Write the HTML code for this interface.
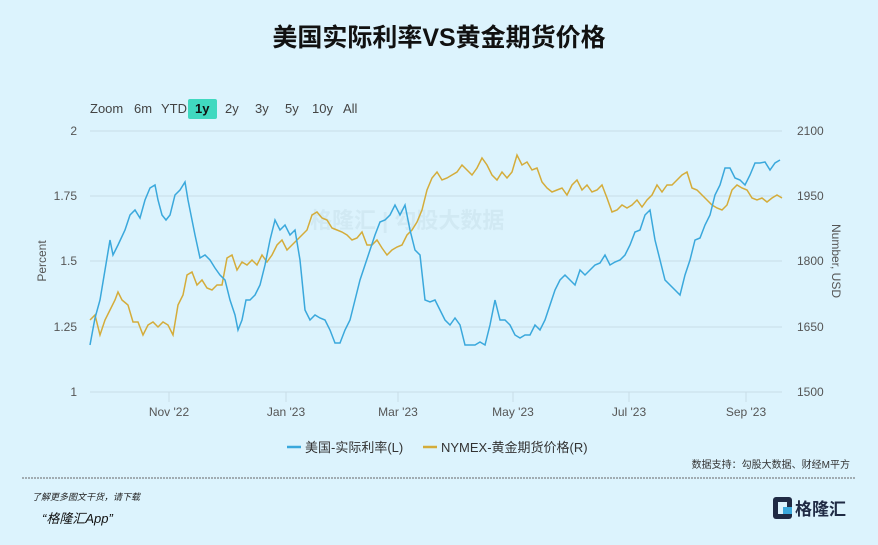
<!DOCTYPE html>
<html><head><meta charset="utf-8"><style>
body{margin:0;width:878px;height:545px;background:#dcf3fd;font-family:"Liberation Sans","Noto Sans CJK SC",sans-serif;overflow:hidden}
</style></head><body>
<svg width="878" height="545" xmlns="http://www.w3.org/2000/svg" style="position:absolute;left:0;top:0">
<text x="439" y="46" text-anchor="middle" font-size="25" font-weight="bold" fill="#111" font-family="Liberation Sans,Noto Sans CJK SC,sans-serif">美国实际利率VS黄金期货价格</text>
<g font-size="13" fill="#444" font-family="Liberation Sans,sans-serif">
<text x="90" y="113">Zoom</text><text x="134" y="113">6m</text><text x="161" y="113">YTD</text>
<rect x="188" y="99" width="29" height="20" rx="2" fill="#40d9c0"/>
<text x="195" y="113" font-weight="bold" fill="#111">1y</text>
<text x="225" y="113">2y</text><text x="255" y="113">3y</text><text x="285" y="113">5y</text><text x="312" y="113">10y</text><text x="343" y="113">All</text>
</g>
<g stroke="#c8dce6" stroke-width="1">
<line x1="90" y1="131" x2="782" y2="131"/><line x1="90" y1="196" x2="782" y2="196"/><line x1="90" y1="261" x2="782" y2="261"/><line x1="90" y1="327" x2="782" y2="327"/><line x1="90" y1="392" x2="782" y2="392"/>
<line x1="169" y1="392" x2="169" y2="402"/><line x1="286" y1="392" x2="286" y2="402"/><line x1="398" y1="392" x2="398" y2="402"/><line x1="513" y1="392" x2="513" y2="402"/><line x1="629" y1="392" x2="629" y2="402"/><line x1="746" y1="392" x2="746" y2="402"/>
</g>
<g font-size="12" fill="#555" text-anchor="end">
<text x="77" y="135">2</text><text x="77" y="200">1.75</text><text x="77" y="265">1.5</text><text x="77" y="331">1.25</text><text x="77" y="396">1</text>
</g>
<g font-size="12" fill="#555">
<text x="797" y="135">2100</text><text x="797" y="200">1950</text><text x="797" y="265">1800</text><text x="797" y="331">1650</text><text x="797" y="396">1500</text>
</g>
<g font-size="12" fill="#555" text-anchor="middle">
<text x="169" y="416">Nov '22</text><text x="286" y="416">Jan '23</text><text x="398" y="416">Mar '23</text><text x="513" y="416">May '23</text><text x="629" y="416">Jul '23</text><text x="746" y="416">Sep '23</text>
</g>
<text transform="translate(46,261) rotate(-90)" font-size="12" fill="#555" text-anchor="middle">Percent</text>
<text transform="translate(832,261) rotate(90)" font-size="12" fill="#555" text-anchor="middle">Number, USD</text>
<text x="310" y="228" font-size="22" font-weight="bold" fill="#c5dde8" opacity="0.45">格隆汇 | 勾股大数据</text>
<polyline fill="none" stroke="#d4ac3a" stroke-width="1.5" points="90,320 95,315 100,335 105,320 110,310 115,300 118,292 122,300 128,305 133,322 138,322 143,335 148,325 153,322 158,327 163,322 168,325 173,335 178,305 183,295 187,275 192,272 197,285 202,280 207,288 212,290 217,285 222,285 227,258 232,255 237,270 242,262 247,265 252,260 257,265 262,255 267,262 272,255 277,245 282,240 287,250 292,245 297,240 302,235 307,230 312,215 317,212 322,218 327,220 332,228 337,230 342,232 347,235 352,240 357,238 362,232 367,245 372,245 377,240 382,248 387,255 392,250 397,247 402,245 407,235 412,230 417,222 422,210 427,190 432,178 437,172 442,180 447,178 452,175 457,172 462,165 467,170 472,175 477,168 482,158 487,165 492,175 497,180 502,172 507,178 512,172 517,155 522,165 527,162 532,170 537,168 542,182 547,188 552,192 557,190 562,188 567,195 572,185 577,180 582,190 587,185 592,192 597,190 602,185 607,198 612,212 617,210 622,205 627,208 632,205 637,200 642,207 647,200 652,195 657,185 662,192 667,185 672,185 677,180 682,175 687,172 692,188 697,190 702,195 707,200 712,205 717,208 722,210 727,205 732,190 737,185 742,188 747,190 752,198 757,200 762,198 767,202 772,198 777,195 782,198"/>
<polyline fill="none" stroke="#3aa8dc" stroke-width="1.5" points="90,345 95,318 100,300 105,270 110,240 113,255 118,245 125,230 130,215 135,210 140,218 145,200 150,188 155,185 158,200 162,215 166,220 170,215 175,195 180,190 185,182 188,200 195,235 200,258 205,255 210,260 215,268 220,275 225,280 230,300 235,315 238,330 242,320 246,300 250,300 255,295 260,285 265,265 270,240 275,220 280,230 285,225 290,235 295,230 300,260 305,310 310,320 315,315 320,318 325,320 330,330 335,343 340,343 345,330 350,320 355,300 360,280 365,265 370,250 375,235 380,222 385,220 390,215 395,205 400,215 405,205 410,230 415,250 420,255 425,300 430,302 435,300 440,310 445,320 450,325 455,318 460,325 465,345 470,345 475,345 480,342 485,345 490,325 495,300 500,320 505,320 510,325 515,335 520,338 525,335 530,335 535,325 540,330 545,320 550,305 555,290 560,280 565,275 570,280 575,285 580,270 585,275 590,270 595,265 600,263 605,255 610,265 615,262 620,260 625,255 630,245 635,232 640,230 645,215 650,210 655,240 660,260 665,280 670,285 675,290 680,295 685,275 690,260 695,240 700,238 705,225 710,215 715,195 720,185 725,168 730,168 735,178 740,180 745,185 750,175 755,163 760,163 765,162 770,170 775,163 780,160"/>
<line x1="287" y1="447" x2="301" y2="447" stroke="#3aa8dc" stroke-width="2.5"/>
<text x="305" y="452" font-size="13" fill="#333">美国-实际利率(L)</text>
<line x1="423" y1="447" x2="437" y2="447" stroke="#d4ac3a" stroke-width="2.5"/>
<text x="441" y="452" font-size="13" fill="#333">NYMEX-黄金期货价格(R)</text>
<text x="850" y="468" font-size="10" fill="#333" text-anchor="end">数据支持：勾股大数据、财经M平方</text>
<line x1="22" y1="478" x2="856" y2="478" stroke="#666" stroke-width="1" stroke-dasharray="2,1"/>
<text x="32" y="500" font-size="9" font-style="italic" fill="#222">了解更多图文干货，请下载</text>
<text x="42" y="523" font-size="13" font-style="italic" fill="#111">“格隆汇App”</text>
<rect x="773" y="497" width="19" height="22" rx="3" fill="#1f2a44"/>
<rect x="778" y="502" width="9" height="12" fill="#dcf3fd"/>
<rect x="783" y="507" width="9" height="7" fill="#3aa8dc"/>
<text x="795" y="515" font-size="17" font-weight="bold" fill="#1f2a44">格隆汇</text>
</svg>
</body></html>
